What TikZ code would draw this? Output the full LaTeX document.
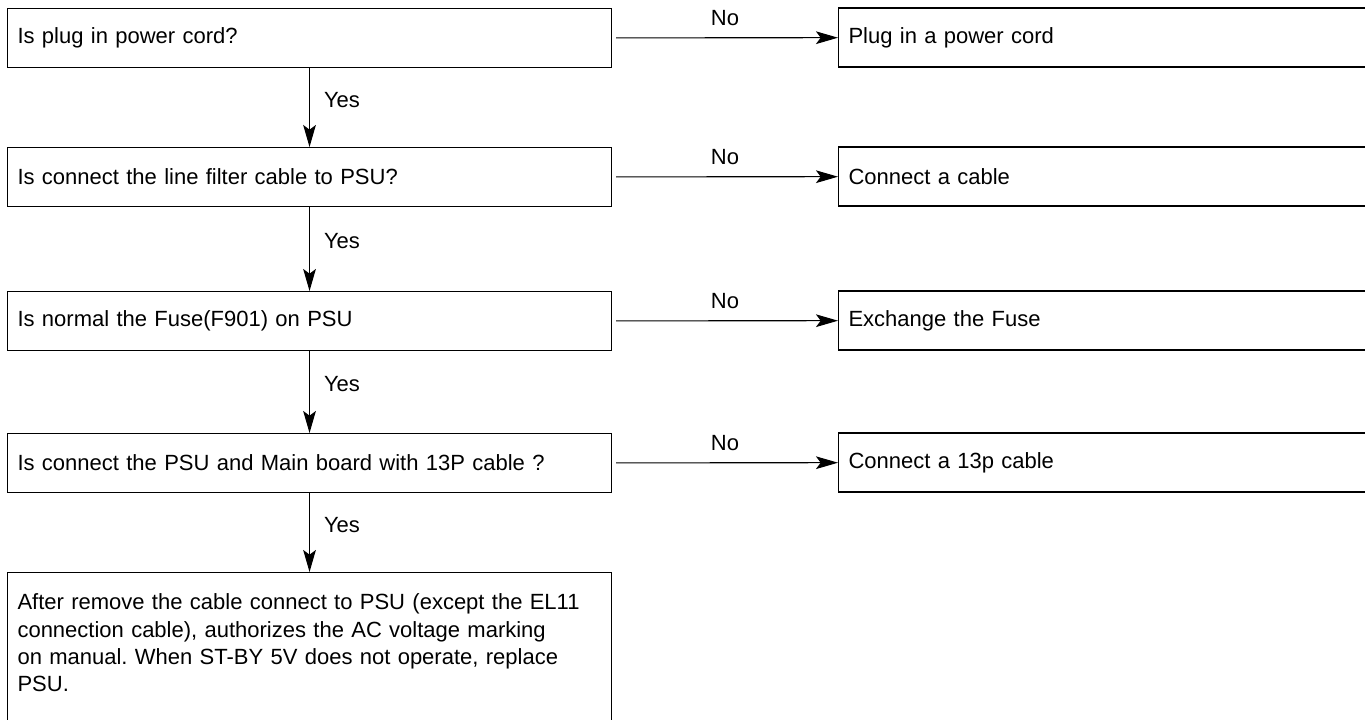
\documentclass[tikz,border=0pt]{standalone}
\usepackage{fontspec}
\setmainfont{Liberation Sans}
\usetikzlibrary{arrows.meta,positioning}
\frenchspacing

\begin{document}
\begin{tikzpicture}[x=0.75pt,y=-0.75pt,
    every node/.style={font=\fontsize{16.5}{20.5}\selectfont},
    qbox/.style={draw,line width=0.8pt,anchor=north west,minimum height=44.25pt,
        text width=438pt,inner xsep=7.5pt,align=left},
    abox/.style={draw,line width=0.8pt,anchor=west,minimum height=44.25pt,
        text width=420pt,inner xsep=7.5pt,align=left},
    flow/.style={line width=0.8pt,-{Stealth[length=16.5pt,width=9.5pt,inset=3.5pt]}},
    yeslab/.style={anchor=west,inner sep=0pt,xshift=10.5pt,pos=0.4},
    nolab/.style={anchor=base,inner sep=0pt,yshift=9pt}]
                \useasboundingbox (0,0) rectangle (1365,719);
                \clip (0,0) rectangle (1365,719);
                %Questions
                \node[qbox] (q1) at (7,8) {Is plug in power cord?};
                \node[qbox] (q2) at (7,147) {Is connect the line filter cable to PSU?};
                \node[qbox] (q3) at (7,291) {Is normal the Fuse(F901) on PSU};
                \node[qbox] (q4) at (7,433) {Is connect the PSU and Main board with 13P cable ?};
                \node[qbox,inner ysep=16pt] (fin) at (7,572) {After remove the cable connect to PSU (except the EL11\\
                    connection cable), authorizes the AC voltage marking\\
                    on manual. When ST-BY 5V does not operate, replace\\
                    PSU.\\ \strut};
                %Answers
                \node[abox] (a1) at (838,37.5) {Plug in a power cord};
                \node[abox] (a2) at (838,176.5) {Connect a cable};
                \node[abox] (a3) at (838,320.5) {Exchange the Fuse};
                \node[abox] (a4) at (838,462.5) {Connect a 13p cable};
                %Yes
                \draw[flow] (q1) -- node[yeslab]{Yes} (q2);
                \draw[flow] (q2) -- node[yeslab]{Yes} (q3);
                \draw[flow] (q3) -- node[yeslab]{Yes} (q4);
                \draw[flow] (q4) -- node[yeslab]{Yes} (fin);
                %No
                \draw[flow,shorten <=3pt] (q1) -- node[nolab]{No} (a1);
                \draw[flow,shorten <=3pt] (q2) -- node[nolab]{No} (a2);
                \draw[flow,shorten <=3pt] (q3) -- node[nolab]{No} (a3);
                \draw[flow,shorten <=3pt] (q4) -- node[nolab]{No} (a4);
\end{tikzpicture}
\end{document}
